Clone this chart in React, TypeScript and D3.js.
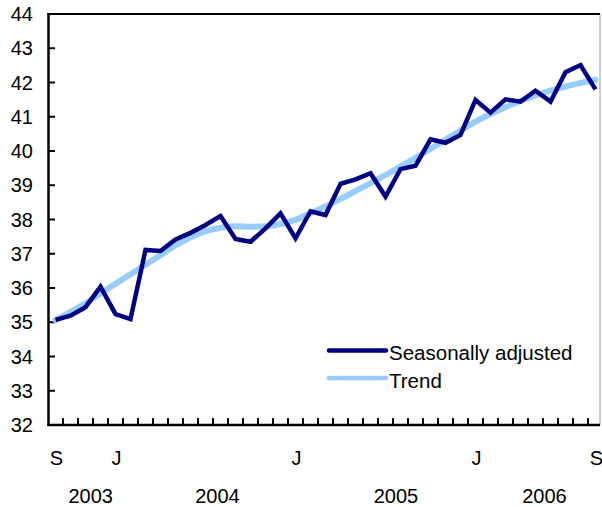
import React from "react";
import * as d3 from "d3";

const months: string[] = [
  "2003-09","2003-10","2003-11","2003-12",
  "2004-01","2004-02","2004-03","2004-04","2004-05","2004-06","2004-07","2004-08","2004-09","2004-10","2004-11","2004-12",
  "2005-01","2005-02","2005-03","2005-04","2005-05","2005-06","2005-07","2005-08","2005-09","2005-10","2005-11","2005-12",
  "2006-01","2006-02","2006-03","2006-04","2006-05","2006-06","2006-07","2006-08","2006-09",
];

const seasonallyAdjusted: number[] = [
  35.07, 35.19, 35.44, 36.04, 35.24, 35.09, 37.11, 37.08, 37.42, 37.61, 37.84, 38.10,
  37.43, 37.35, 37.74, 38.18, 37.45, 38.24, 38.13, 39.04, 39.17, 39.35, 38.67, 39.47,
  39.57, 40.34, 40.24, 40.47, 41.49, 41.12, 41.51, 41.44, 41.76, 41.44, 42.30, 42.51, 41.80,
];

const trend: number[] = [
  35.06, 35.30, 35.55, 35.84, 36.12, 36.40, 36.68, 36.96, 37.24, 37.48, 37.66, 37.76,
  37.80, 37.79, 37.80, 37.87, 37.99, 38.18, 38.38, 38.60, 38.83, 39.06, 39.30, 39.55,
  39.80, 40.06, 40.33, 40.60, 40.86, 41.08, 41.28, 41.46, 41.62, 41.76, 41.88, 41.99, 42.08,
];

const yTicks: number[] = [32, 33, 34, 35, 36, 37, 38, 39, 40, 41, 42, 43, 44];
const monthLabels: { index: number; label: string }[] = [
  { index: 0, label: "S" },
  { index: 4, label: "J" },
  { index: 16, label: "J" },
  { index: 28, label: "J" },
  { index: 36, label: "S" },
];
const yearLabels: { at: number; label: string }[] = [
  { at: 2.35, label: "2003" },
  { at: 10.8, label: "2004" },
  { at: 22.7, label: "2005" },
  { at: 32.6, label: "2006" },
];
const seriesNames = ["Seasonally adjusted", "Trend"];

const W = 602;
const H = 507;
const FONT = "'Liberation Sans', Arial, Helvetica, sans-serif";
const DARK = "#000080";
const LIGHT = "#99CCFF";

export default function App() {
  const left = 48.5;
  const right = 600;
  const top = 14;
  const bottom = 425;

  const x = d3.scaleLinear().domain([0, months.length - 1]).range([55.5, 595.5]);
  const y = d3.scaleLinear().domain([32, 44]).range([bottom, top]);

  const line = d3
    .line<number>()
    .x((_, i) => x(i))
    .y((d) => y(d));
  const smooth = d3
    .line<number>()
    .x((_, i) => x(i))
    .y((d) => y(d))
    .curve(d3.curveMonotoneX);

  const xTicks = d3.range(0, months.length - 1).map((i) => i + 0.5);

  return (
    <svg
      width={W}
      height={H}
      viewBox={`0 0 ${W} ${H}`}
      style={{ position: "absolute", left: 0, top: 0, background: "#fff" }}
      fontFamily={FONT}
    >
      <rect x={0} y={0} width={W} height={H} fill="#fff" />
      {/* frame */}
      <line x1={right} y1={top} x2={right} y2={bottom} stroke="#999" strokeWidth={1} />
      <line x1={left - 1} y1={top} x2={right} y2={top} stroke="#000" strokeWidth={2} />

      {/* y ticks */}
      {yTicks.map((t) => (
        <g key={t}>
          <line x1={left} x2={left + 6.5} y1={y(t)} y2={y(t)} stroke="#000" strokeWidth={2} />
          <text
            x={33}
            y={y(t)}
            dy="0.36em"
            textAnchor="end"
            fontSize={20}
            fill="#000"
          >
            {t}
          </text>
        </g>
      ))}

      {/* x ticks */}
      {xTicks.map((t) => (
        <line key={t} x1={x(t)} x2={x(t)} y1={bottom} y2={bottom - 7} stroke="#000" strokeWidth={2} />
      ))}

      {/* axes */}
      <line x1={left} y1={top - 1} x2={left} y2={bottom + 1} stroke="#000" strokeWidth={2.5} />
      <line x1={left - 1} y1={bottom} x2={right} y2={bottom} stroke="#000" strokeWidth={2.5} />

      {/* month labels */}
      {monthLabels.map((m) => (
        <text key={m.index} x={x(m.index) + 1} y={465} textAnchor="middle" fontSize={20} fill="#000">
          {m.label}
        </text>
      ))}
      {/* year labels */}
      {yearLabels.map((yl) => (
        <text key={yl.label} x={x(yl.at)} y={503} textAnchor="middle" fontSize={20} fill="#000">
          {yl.label}
        </text>
      ))}

      {/* series */}
      <path d={smooth(trend) || ""} fill="none" stroke={LIGHT} strokeWidth={6} strokeLinecap="round" strokeLinejoin="round" />
      <path d={line(seasonallyAdjusted) || ""} fill="none" stroke={DARK} strokeWidth={4.5} strokeLinejoin="miter" />

      {/* legend */}
      <line x1={329} x2={386} y1={350.5} y2={350.5} stroke={DARK} strokeWidth={4.5} strokeLinecap="round" />
      <text x={389} y={360} fontSize={20.5} fill="#000">{seriesNames[0]}</text>
      <line x1={329} x2={386} y1={378} y2={378} stroke={LIGHT} strokeWidth={4.5} strokeLinecap="round" />
      <text x={389} y={387.5} fontSize={20.5} fill="#000">{seriesNames[1]}</text>
    </svg>
  );
}
